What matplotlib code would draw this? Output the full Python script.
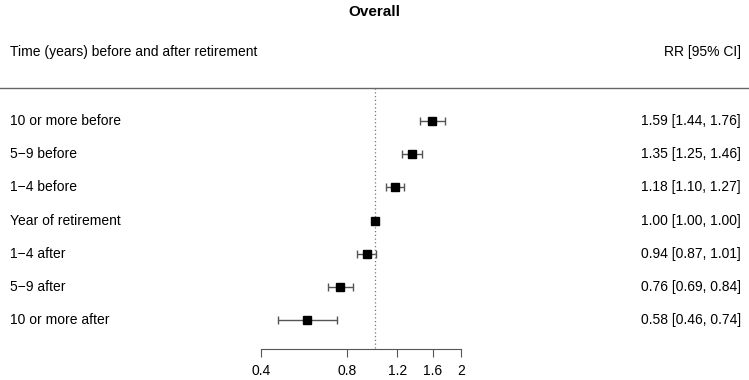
import numpy as np
import matplotlib.pyplot as plt
import matplotlib.transforms as mtransforms

plt.rcParams['font.family'] = ['Liberation Sans', 'DejaVu Sans']

labels = ["10 or more before", "5\u22129 before", "1\u22124 before",
          "Year of retirement", "1\u22124 after", "5\u22129 after",
          "10 or more after"]
rr = [1.59, 1.35, 1.18, 1.00, 0.94, 0.76, 0.58]
lo = [1.44, 1.25, 1.10, 1.00, 0.87, 0.69, 0.46]
hi = [1.76, 1.46, 1.27, 1.00, 1.01, 0.84, 0.74]
xticks = [0.4, 0.8, 1.2, 1.6, 2]
xticklabels = ["0.4", "0.8", "1.2", "1.6", "2"]

fig = plt.figure(figsize=(7.49, 3.80), dpi=100)
ax = fig.add_axes([0, 0, 1, 1])
ax.set_xscale("log")
ax.set_xlim(0.0491, 20.35)
ax.set_ylim(7.808, -3.648)

rr = np.array(rr)
lo = np.array(lo)
hi = np.array(hi)
rows = np.arange(len(rr))

ax.errorbar(rr, rows, xerr=[rr - lo, hi - rr], fmt="none",
            ecolor="#555555", elinewidth=1.0, capsize=2.8, capthick=1.0)
ax.plot(rr, rows, "s", color="black", ms=5.3, zorder=3)

# reference line at RR = 1
ax.vlines(1.0, -1, 6.87, colors="#777777", linestyles=(0, (1, 2)), lw=0.9)
ax.axhline(-1, color="#666666", lw=1.0)

tr = mtransforms.blended_transform_factory(ax.transAxes, ax.transData)
for i, lab in enumerate(labels):
    ax.text(0.0134, i, lab, transform=tr, ha="left", va="center", fontsize=10)
    ax.text(0.989, i, f"{rr[i]:.2f} [{lo[i]:.2f}, {hi[i]:.2f}]",
            transform=tr, ha="right", va="center", fontsize=10)

fig.text(0.0134, 1 - 52 / 380, "Time (years) before and after retirement",
         ha="left", va="center", fontsize=10)
fig.text(0.989, 1 - 52 / 380, "RR [95% CI]", ha="right", va="center",
         fontsize=10)
fig.text(0.5, 1 - 12 / 380, "Overall", ha="center", va="center",
         fontsize=11, fontweight="bold")

for s in ["top", "left", "right"]:
    ax.spines[s].set_visible(False)
ax.spines["bottom"].set_position(("data", 6.87))
ax.spines["bottom"].set_bounds(0.4, 2)
ax.spines["bottom"].set_color("#555555")
ax.set_xticks(xticks)
ax.set_xticklabels(xticklabels, fontsize=10)
ax.xaxis.set_minor_locator(plt.NullLocator())
ax.tick_params(axis="x", length=6, color="#555555", pad=5)
ax.set_yticks([])
ax.patch.set_visible(False)

fig.savefig("out.png", dpi=100)
